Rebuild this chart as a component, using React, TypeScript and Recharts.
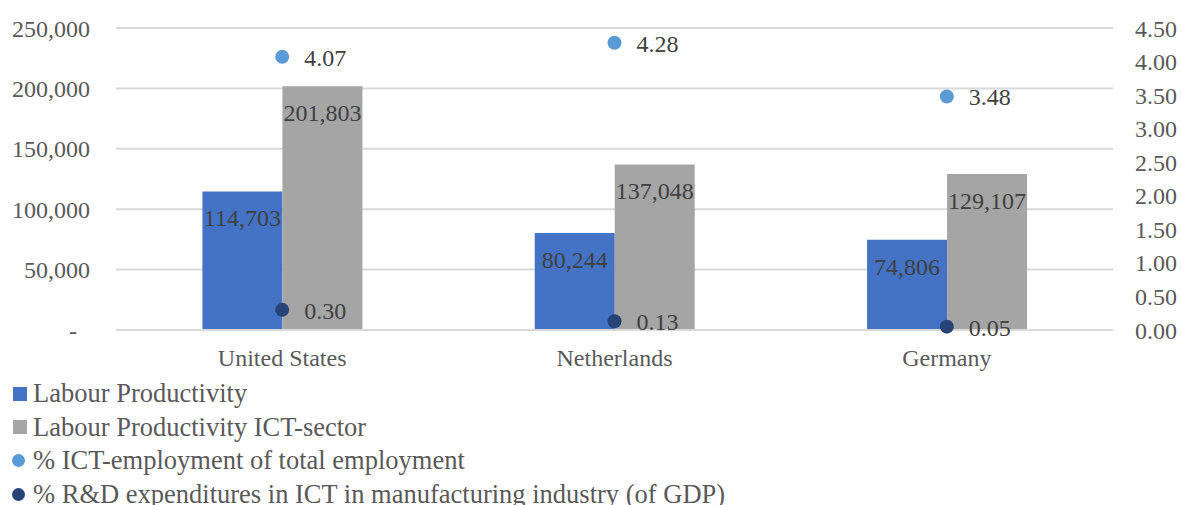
import React from 'react';
import { ComposedChart, Bar, Scatter, XAxis, YAxis, CartesianGrid, Legend, LabelList } from 'recharts';

const countries = ['United States', 'Netherlands', 'Germany'];
const labourProductivity = [114703, 80244, 74806];
const labourProductivityICT = [201803, 137048, 129107];
const ictEmploymentShare = [4.07, 4.28, 3.48];
const rdExpenditureShare = [0.3, 0.13, 0.05];
const leftTicks = [0, 50000, 100000, 150000, 200000, 250000];
const rightTicks = [0, 0.5, 1, 1.5, 2, 2.5, 3, 3.5, 4, 4.5];
const seriesNames = [
  'Labour Productivity',
  'Labour Productivity ICT-sector',
  '% ICT-employment of total employment',
  '% R&D expenditures in ICT in manufacturing industry (of GDP)',
];

const COLORS = {
  lp: '#4472C4',
  lpIct: '#A5A5A5',
  ict: '#5B9BD5',
  rd: '#264478',
};
const legendShapes = ['square', 'square', 'circle', 'circle'];
const legendColors = [COLORS.lp, COLORS.lpIct, COLORS.ict, COLORS.rd];

const data = countries.map((c, i) => ({
  country: c,
  lp: labourProductivity[i],
  lpIct: labourProductivityICT[i],
  ict: ictEmploymentShare[i],
  rd: rdExpenditureShare[i],
}));

const FONT = '"Liberation Serif", "Times New Roman", serif';
const AXIS_COLOR = '#595959';
const LABEL_COLOR = '#404040';

const LeftTick = (props: any) => {
  const { x, y, payload } = props;
  const v = payload.value;
  if (v === 0) {
    return (
      <text x={x - 13} y={y} dy="0.355em" textAnchor="end" fill={AXIS_COLOR} fontSize={24} fontFamily={FONT}>
        -
      </text>
    );
  }
  return (
    <text x={x} y={y} dy="0.355em" textAnchor="end" fill={AXIS_COLOR} fontSize={24} fontFamily={FONT}>
      {v.toLocaleString('en-US')}
    </text>
  );
};

const BarLabel = (props: any) => {
  const { x, y, width, value } = props;
  return (
    <text x={x + width / 2} y={y + 35} textAnchor="middle" fill={LABEL_COLOR} fontSize={24} fontFamily={FONT}>
      {Number(value).toLocaleString('en-US')}
    </text>
  );
};

const makeDot = (key: string, color: string) => (props: any) => {
  const { cx, cy, payload } = props;
  if (cx == null || cy == null) return null;
  return (
    <g>
      <circle cx={cx} cy={cy} r={7} fill={color} />
      <text x={cx + 22} y={cy + 9} textAnchor="start" fill={LABEL_COLOR} fontSize={24} fontFamily={FONT}>
        {Number(payload[key]).toFixed(2)}
      </text>
    </g>
  );
};

const LegendContent = () => (
  <div style={{ fontFamily: FONT, fontSize: 26.5, color: AXIS_COLOR }}>
    {seriesNames.map((name, i) => (
      <div key={name} style={{ display: 'flex', alignItems: 'center', height: 33.5, whiteSpace: 'nowrap' }}>
        <span
          style={{
            display: 'inline-block',
            width: legendShapes[i] === 'square' ? 14 : 13,
            height: legendShapes[i] === 'square' ? 14 : 13,
            marginLeft: legendShapes[i] === 'square' ? 13 : 12,
            marginRight: legendShapes[i] === 'square' ? 6 : 8,
            background: legendColors[i],
            borderRadius: legendShapes[i] === 'square' ? 0 : '50%',
          }}
        />
        <span style={{ lineHeight: '33.5px' }}>{name}</span>
      </div>
    ))}
  </div>
);

export default function App() {
  return (
    <div style={{ position: 'absolute', left: 0, top: 0, width: 1181, height: 505, overflow: 'hidden', background: '#fff' }}>
      <ComposedChart
        width={1181}
        height={505}
        data={data}
        margin={{ top: 28, right: 0, bottom: 145, left: 0 }}
        barGap={0}
        barCategoryGap="26%"
      >
        <CartesianGrid yAxisId="left" vertical={false} stroke="#D9D9D9" strokeWidth={2} />
        <XAxis
          dataKey="country"
          height={30}
          tickLine={false}
          tickSize={0}
          tickMargin={19}
          axisLine={{ stroke: '#D9D9D9', strokeWidth: 2 }}
          tick={{ fill: AXIS_COLOR, fontSize: 24, fontFamily: FONT }}
        />
        <YAxis
          yAxisId="left"
          orientation="left"
          width={116}
          domain={[0, 250000]}
          ticks={leftTicks}
          tickLine={false}
          axisLine={false}
          tickSize={0}
          tickMargin={26}
          tick={<LeftTick />}
          interval={0}
        />
        <YAxis
          yAxisId="right"
          orientation="right"
          width={68}
          domain={[0, 4.5]}
          ticks={rightTicks}
          tickLine={false}
          axisLine={false}
          tickSize={0}
          tickMargin={22}
          interval={0}
          tickFormatter={(v: number) => v.toFixed(2)}
          tick={{ fill: AXIS_COLOR, fontSize: 24, fontFamily: FONT, textAnchor: 'start' }}
        />
        <Bar yAxisId="left" dataKey="lp" name={seriesNames[0]} fill={COLORS.lp} isAnimationActive={false}>
          <LabelList dataKey="lp" content={<BarLabel />} />
        </Bar>
        <Bar yAxisId="left" dataKey="lpIct" name={seriesNames[1]} fill={COLORS.lpIct} isAnimationActive={false}>
          <LabelList dataKey="lpIct" content={<BarLabel />} />
        </Bar>
        <Scatter
          yAxisId="right"
          dataKey="ict"
          name={seriesNames[2]}
          fill={COLORS.ict}
          shape={makeDot('ict', COLORS.ict)}
          isAnimationActive={false}
        />
        <Scatter
          yAxisId="right"
          dataKey="rd"
          name={seriesNames[3]}
          fill={COLORS.rd}
          shape={makeDot('rd', COLORS.rd)}
          isAnimationActive={false}
        />
        <Legend
          layout="vertical"
          align="center"
          verticalAlign="middle"
          content={<LegendContent />}
          wrapperStyle={{ left: 0, top: 377, width: 1000, height: 140 }}
        />
      </ComposedChart>
    </div>
  );
}
